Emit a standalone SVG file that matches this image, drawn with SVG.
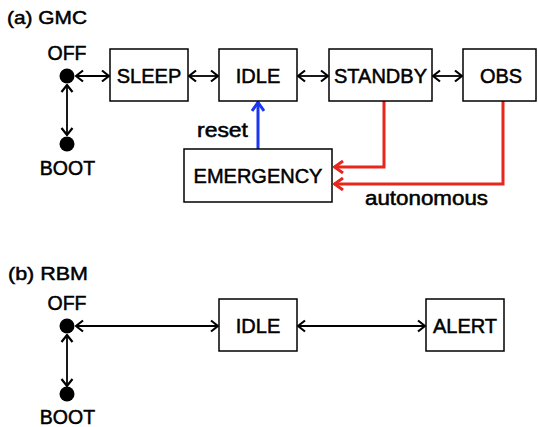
<svg xmlns="http://www.w3.org/2000/svg" width="538" height="427" viewBox="0 0 538 427">
<defs>
<style>
text{font-family:"Liberation Sans",Arial,sans-serif;fill:#000;stroke:#000;stroke-width:0.5}
.t{font-size:20px;text-anchor:middle}
.h{font-size:19px}
.l{font-size:19.5px}
.box{fill:#fff;stroke:#000;stroke-width:1.5}
.c{fill:none;stroke:#000;stroke-width:1.8}
.r{fill:none;stroke:#e8261b;stroke-width:3}
.b{fill:none;stroke:#1936f5;stroke-width:3}
</style>
<marker id="ak" viewBox="0 0 10 14" refX="9" refY="7" markerWidth="10" markerHeight="14" markerUnits="userSpaceOnUse" orient="auto-start-reverse">
<path d="M2,1.5 L9,7 L2,12.5" fill="none" stroke="#000" stroke-width="2.2"/>
</marker>
<marker id="ar" viewBox="0 0 12 14" refX="11" refY="7" markerWidth="12" markerHeight="14" markerUnits="userSpaceOnUse" orient="auto">
<path d="M2,1 L10.5,7 L2,13" fill="none" stroke="#e8261b" stroke-width="3"/>
</marker>
<marker id="ab" viewBox="0 0 12 14" refX="11" refY="7" markerWidth="12" markerHeight="14" markerUnits="userSpaceOnUse" orient="auto">
<path d="M2,1 L10.5,7 L2,13" fill="none" stroke="#1936f5" stroke-width="3"/>
</marker>
</defs>
<rect width="538" height="427" fill="#fff"/>
<text class="h" x="7" y="24" textLength="80" lengthAdjust="spacingAndGlyphs">(a) GMC</text>
<text class="h" x="8" y="280" textLength="80" lengthAdjust="spacingAndGlyphs">(b) RBM</text>
<g id="connectors">
<line class="c" x1="76" y1="76" x2="109" y2="76" marker-start="url(#ak)" marker-end="url(#ak)"/>
<line class="c" x1="189" y1="76" x2="218" y2="76" marker-start="url(#ak)" marker-end="url(#ak)"/>
<line class="c" x1="298" y1="76" x2="328" y2="76" marker-start="url(#ak)" marker-end="url(#ak)"/>
<line class="c" x1="433" y1="76" x2="462" y2="76" marker-start="url(#ak)" marker-end="url(#ak)"/>
<line class="c" x1="67" y1="85" x2="67" y2="135" marker-start="url(#ak)" marker-end="url(#ak)"/>
<line class="b" x1="258" y1="149" x2="258" y2="102" marker-end="url(#ab)"/>
<polyline class="r" points="384,101 384,167 334,167" marker-end="url(#ar)"/>
<polyline class="r" points="503,101 503,184 334,184" marker-end="url(#ar)"/>
<line class="c" x1="76" y1="326" x2="218" y2="326" marker-start="url(#ak)" marker-end="url(#ak)"/>
<line class="c" x1="298" y1="326" x2="425" y2="326" marker-start="url(#ak)" marker-end="url(#ak)"/>
<line class="c" x1="67" y1="335" x2="67" y2="386" marker-start="url(#ak)" marker-end="url(#ak)"/>
<text class="l" x="197" y="137" textLength="51" lengthAdjust="spacingAndGlyphs">reset</text>
<text class="l" x="365" y="205" textLength="123" lengthAdjust="spacingAndGlyphs">autonomous</text>
</g>
<g id="a-off"><circle cx="67" cy="76" r="7.5"/><text class="l" x="67" y="60" text-anchor="middle">OFF</text></g>
<g id="a-boot"><circle cx="67" cy="144" r="7.5"/><text class="l" x="67.5" y="175" text-anchor="middle">BOOT</text></g>
<g id="a-sleep"><rect class="box" x="110" y="49" width="78" height="52"/><text class="t" x="149" y="82.5">SLEEP</text></g>
<g id="a-idle"><rect class="box" x="219" y="49" width="78" height="52"/><text class="t" x="258" y="82.5">IDLE</text></g>
<g id="a-standby"><rect class="box" x="329" y="49" width="103" height="52"/><text class="t" x="380.5" y="82.5">STANDBY</text></g>
<g id="a-obs"><rect class="box" x="463" y="49" width="73" height="52"/><text class="t" x="501" y="82.5">OBS</text></g>
<g id="a-emergency"><rect class="box" x="184" y="149" width="148" height="53"/><text class="t" x="258" y="183">EMERGENCY</text></g>
<g id="b-off"><circle cx="67" cy="326" r="7.5"/><text class="l" x="67" y="310" text-anchor="middle">OFF</text></g>
<g id="b-boot"><circle cx="67" cy="394" r="7.5"/><text class="l" x="67.5" y="424" text-anchor="middle">BOOT</text></g>
<g id="b-idle"><rect class="box" x="219" y="299" width="78" height="52"/><text class="t" x="258" y="332.5">IDLE</text></g>
<g id="b-alert"><rect class="box" x="426" y="299" width="78" height="52"/><text class="t" x="465" y="332.5">ALERT</text></g>
</svg>
